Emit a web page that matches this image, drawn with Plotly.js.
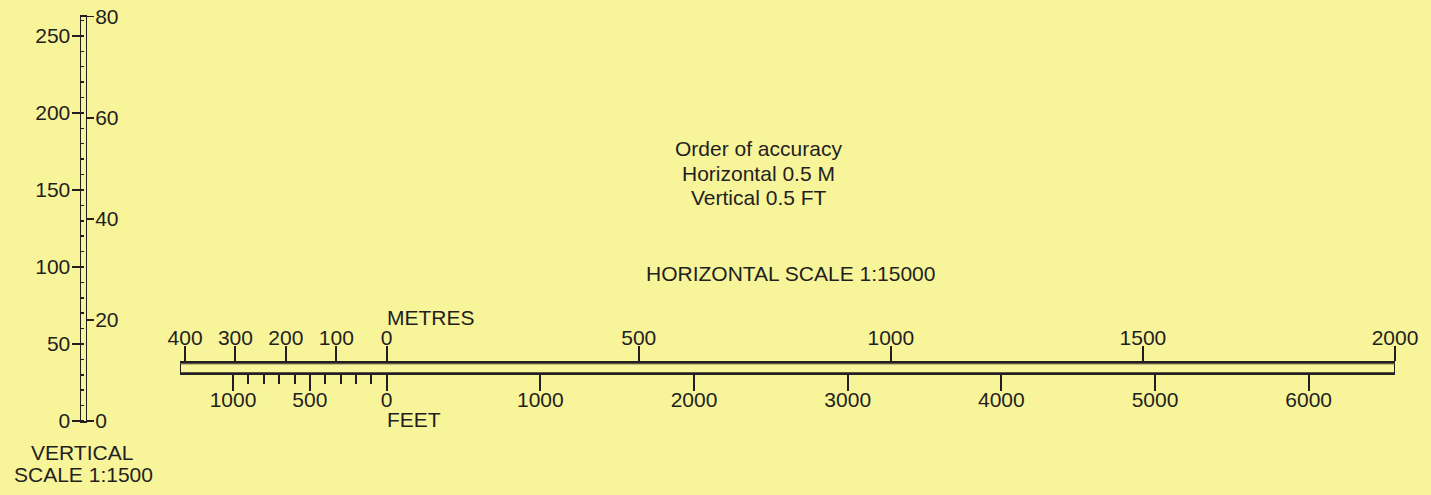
<!DOCTYPE html>
<html>
<head>
<meta charset="utf-8">
<script src="https://cdn.plot.ly/plotly-3.0.1.min.js"></script>
<style>html,body{margin:0;padding:0;background:#f8f49a;}#chart{width:1431px;height:495px;}</style>
</head>
<body>
<div id="chart"></div>
<script>
// ---- data ----
const FT_PER_M = 1 / 0.3048;
// horizontal scale (1:15000)
const metreTickVals = [-400, -300, -200, -100, 0, 500, 1000, 1500, 2000];
const metreTickText = ['400', '300', '200', '100', '0', '500', '1000', '1500', '2000'];
const feetTickVals = [-1000, -500, 0, 1000, 2000, 3000, 4000, 5000, 6000];
const feetTickText = ['1000', '500', '0', '1000', '2000', '3000', '4000', '5000', '6000'];
const feetMinorVals = [-900, -800, -700, -600, -400, -300, -200, -100];
const barStartM = -410;
const barEndM = 2000;
// vertical scale (1:1500)
const vertFeetTicks = [0, 50, 100, 150, 200, 250];
const vertMetreTicks = [0, 20, 40, 60, 80];
const vertTopM = 80;

const ink = '#231f20';
const bg = '#f8f49a';
const fnt = {family: 'Liberation Sans, Arial, sans-serif', size: 21, color: ink};
const W = 1431, H = 495;
const px = v => v / W, py = v => (H - v) / H;

const hidden = {mode: 'markers', marker: {opacity: 0}, hoverinfo: 'skip', showlegend: false};
const data = [
  Object.assign({x: metreTickVals, y: metreTickVals.map(() => 0.5), xaxis: 'x', yaxis: 'y3'}, hidden),
  Object.assign({x: feetTickVals, y: feetTickVals.map(() => 0.5), xaxis: 'x2', yaxis: 'y3'}, hidden),
  Object.assign({x: vertFeetTicks.map(() => 0.5), y: vertFeetTicks, xaxis: 'x3', yaxis: 'y'}, hidden),
  Object.assign({x: vertMetreTicks.map(() => 0.5), y: vertMetreTicks, xaxis: 'x3', yaxis: 'y2'}, hidden)
];

const hDomain = [px(180), px(1395)];
const layout = {
  width: W, height: H,
  margin: {l: 0, r: 0, t: 0, b: 0},
  paper_bgcolor: bg, plot_bgcolor: bg,
  font: fnt,
  showlegend: false,
  xaxis: {
    domain: hDomain, range: [barStartM, barEndM], anchor: 'y3', side: 'top',
    showline: true, linewidth: 2, linecolor: ink,
    ticks: 'outside', ticklen: 15, tickwidth: 2, tickcolor: ink,
    tickmode: 'array', tickvals: metreTickVals, ticktext: metreTickText,
    ticklabelstandoff: -7,
    showgrid: false, zeroline: false, tickfont: fnt, fixedrange: true
  },
  xaxis2: {
    domain: hDomain, range: [barStartM * FT_PER_M, barEndM * FT_PER_M], anchor: 'y3', side: 'bottom',
    overlaying: 'x',
    showline: true, linewidth: 2, linecolor: ink,
    ticks: 'outside', ticklen: 16, tickwidth: 2, tickcolor: ink,
    tickmode: 'array', tickvals: feetTickVals, ticktext: feetTickText,
    ticklabelstandoff: -10,
    minor: {tickmode: 'array', tickvals: feetMinorVals, ticks: 'outside', ticklen: 9, tickwidth: 2, tickcolor: ink, showgrid: false},
    showgrid: false, zeroline: false, tickfont: fnt, fixedrange: true
  },
  yaxis3: {
    domain: [py(373.3), py(363.3)], range: [0, 1], anchor: 'x', visible: false, fixedrange: true
  },
  xaxis3: {
    domain: [px(81), px(85.5)], range: [0, 1], anchor: 'y',
    showline: true, mirror: true, linewidth: 1.5, linecolor: ink,
    ticks: '', showticklabels: false, showgrid: false, zeroline: false, fixedrange: true
  },
  yaxis: {
    domain: [py(421), py(16.7)], range: [0, vertTopM * FT_PER_M], anchor: 'x3', side: 'left',
    showline: true, linewidth: 1.5, linecolor: ink,
    ticks: 'outside', ticklen: 8, tickwidth: 1.5, tickcolor: ink,
    tickmode: 'array', tickvals: vertFeetTicks,
    ticklabelstandoff: -3,
    minor: {dtick: 10, tick0: 0, ticks: 'inside', ticklen: 3, tickwidth: 1.5, tickcolor: ink, showgrid: false},
    showgrid: false, zeroline: false, tickfont: fnt, fixedrange: true
  },
  yaxis2: {
    domain: [py(421), py(16.7)], range: [0, vertTopM], anchor: 'x3', side: 'right', overlaying: 'y',
    showline: true, linewidth: 1.5, linecolor: ink,
    ticks: 'outside', ticklen: 7, tickwidth: 1.5, tickcolor: ink,
    tickmode: 'array', tickvals: vertMetreTicks,
    ticklabelstandoff: -3,
    showgrid: false, zeroline: false, tickfont: fnt, fixedrange: true
  },
  shapes: [
    {type: 'rect', xref: 'x', yref: 'y3', x0: barStartM, x1: barEndM, y0: 0, y1: 1,
     line: {color: ink, width: 2}, fillcolor: 'rgba(0,0,0,0)'}
  ],
  annotations: [
    {text: 'Order of accuracy', xref: 'paper', yref: 'paper', x: px(758.5), y: py(148), showarrow: false, font: fnt, xanchor: 'center', yanchor: 'middle'},
    {text: 'Horizontal 0.5 M', xref: 'paper', yref: 'paper', x: px(758.5), y: py(173), showarrow: false, font: fnt, xanchor: 'center', yanchor: 'middle'},
    {text: 'Vertical 0.5 FT', xref: 'paper', yref: 'paper', x: px(758.5), y: py(197.5), showarrow: false, font: fnt, xanchor: 'center', yanchor: 'middle'},
    {text: 'HORIZONTAL SCALE 1:15000', xref: 'paper', yref: 'paper', x: px(790), y: py(273), showarrow: false, font: fnt, xanchor: 'center', yanchor: 'middle'},
    {text: 'METRES', xref: 'x', yref: 'paper', x: 0, y: py(317.5), showarrow: false, font: fnt, xanchor: 'left', yanchor: 'middle', xshift: -2},
    {text: 'FEET', xref: 'x', yref: 'paper', x: 0, y: py(419), showarrow: false, font: fnt, xanchor: 'left', yanchor: 'middle', xshift: -2},
    {text: 'VERTICAL', xref: 'paper', yref: 'paper', x: px(82), y: py(452.5), showarrow: false, font: fnt, xanchor: 'center', yanchor: 'middle'},
    {text: 'SCALE 1:1500', xref: 'paper', yref: 'paper', x: px(83), y: py(474), showarrow: false, font: fnt, xanchor: 'center', yanchor: 'middle'}
  ]
};

Plotly.newPlot('chart', data, layout, {staticPlot: true, displayModeBar: false});
</script>
</body>
</html>
